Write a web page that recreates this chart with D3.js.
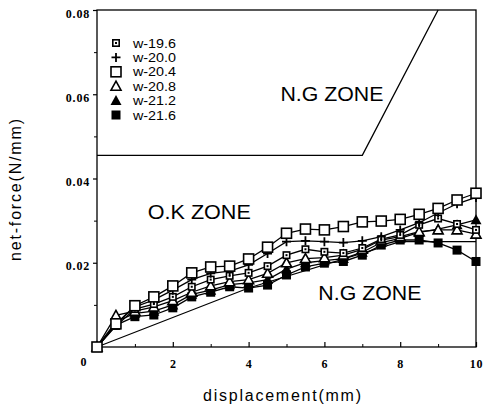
<!DOCTYPE html>
<html><head><meta charset="utf-8">
<script src="https://cdn.jsdelivr.net/npm/d3@7"></script>
<style>body{margin:0;background:#fff}svg{display:block}</style>
</head><body>
<svg id="c" width="486" height="410"></svg>
<script>
const xs = [0,0.5,1,1.5,2,2.5,3,3.5,4,4.5,5,5.5,6,6.5,7,7.5,8,8.5,9,9.5,10];
const w196 = [0,0.0050,0.0090,0.0102,0.0119,0.0143,0.0160,0.0169,0.0176,0.0192,0.0218,0.0232,0.0226,0.0223,0.0235,0.0256,0.0266,0.0290,0.0305,0.0292,0.0278];
const w200 = [0,0.0055,0.0095,0.0112,0.0135,0.0160,0.0175,0.0180,0.0195,0.0222,0.0250,0.0252,0.0250,0.0248,0.0252,0.0262,0.0278,0.0295,0.0318,0.0340,0.0355];
const w204 = [0,0.0055,0.0098,0.0119,0.0145,0.0176,0.0190,0.0192,0.0209,0.0237,0.0270,0.0280,0.0278,0.0286,0.0297,0.0299,0.0303,0.0315,0.0329,0.0349,0.0365];
const w208 = [0,0.0075,0.0085,0.0095,0.0110,0.0130,0.0145,0.0155,0.0160,0.0175,0.0200,0.0210,0.0212,0.0218,0.0232,0.0254,0.0262,0.0274,0.0278,0.0278,0.0268];
const w212 = [0,0.0060,0.0080,0.0085,0.0100,0.0125,0.0135,0.0148,0.0152,0.0160,0.0185,0.0200,0.0205,0.0210,0.0225,0.0248,0.0258,0.0272,0.0280,0.0290,0.0302];
const w216 = [0,0.0052,0.0072,0.0076,0.0093,0.0119,0.0130,0.0143,0.0140,0.0147,0.0171,0.0190,0.0199,0.0203,0.0218,0.0242,0.0254,0.0254,0.0247,0.0230,0.0203];
const seriesNames = ["w-19.6","w-20.0","w-20.4","w-20.8","w-21.2","w-21.6"];
const seriesVals = [w196,w200,w204,w208,w212,w216];
const seriesMarks = ["dotsq","plus","opensq","opentri","filltri","fillsq"];
const yTicks = [0.02,0.04,0.06,0.08];
const yMinor = [0.01,0.03,0.05,0.07];
const xTicks = [2,4,6,8,10];
const xMinor = [1,3,5,7,9];
const ngUpX = [0,7,9], ngUpY = [0.0455,0.0455,0.08];
const ngLowX = [0,4,8,10], ngLowY = [0,0.014,0.025,0.025];
const zoneText = ["N.G ZONE","O.K ZONE","N.G ZONE"];
const zoneX = [6.2,2.7,7.2], zoneY = [0.0585,0.0305,0.0112];

const svg = d3.select("#c");
const x = d3.scaleLinear([0,10],[97,476]);
const y = d3.scaleLinear([0,0.08],[347,10]);

// frame
svg.append("rect").attr("x",x(0)).attr("y",y(0.08)).attr("width",x(10)-x(0)).attr("height",y(0)-y(0.08))
  .attr("fill","none").attr("stroke","#000").attr("stroke-width",1.3);

// axes
const tickFont = "bold 12px 'Liberation Serif', serif";
const ya = svg.append("g").attr("transform",`translate(${x(0)},0)`)
  .call(d3.axisLeft(y).tickValues(yTicks).tickSize(4).tickPadding(3).tickFormat(d3.format(".2f")));
ya.select(".domain").remove();
ya.selectAll("text").style("font",tickFont).style("letter-spacing","0.8px").attr("dy","0.6em").attr("fill","#000");
ya.selectAll("line").attr("stroke-width",1.2);
const ym = svg.append("g").attr("transform",`translate(${x(0)},0)`)
  .call(d3.axisLeft(y).tickValues(yMinor).tickSize(3).tickFormat(""));
ym.select(".domain").remove();
const xa = svg.append("g").attr("transform",`translate(0,${y(0)})`)
  .call(d3.axisBottom(x).tickValues(xTicks).tickSize(-5).tickPadding(12).tickFormat(d3.format("d")));
xa.select(".domain").remove();
xa.selectAll("text").style("font",tickFont).style("letter-spacing","0.8px").attr("fill","#000");
xa.selectAll("line").attr("stroke-width",1.2);
const xm = svg.append("g").attr("transform",`translate(0,${y(0)})`)
  .call(d3.axisBottom(x).tickValues(xMinor).tickSize(-3).tickFormat(""));
xm.select(".domain").remove();
svg.append("text").attr("x",x(0)-13.5).attr("y",y(0)+19).attr("text-anchor","middle")
  .style("font",tickFont).text("0");

// axis titles
svg.append("text").attr("x",282).attr("y",401).attr("text-anchor","middle")
  .attr("textLength",158).attr("lengthAdjust","spacing")
  .style("font","16px 'Liberation Sans', Arial, sans-serif").text("displacement(mm)");
svg.append("text").attr("transform","translate(21,190) rotate(-90)").attr("text-anchor","middle")
  .attr("textLength",142).attr("lengthAdjust","spacing")
  .style("font","16px 'Liberation Sans', Arial, sans-serif").text("net-force(N/mm)");

// zone boundaries
const bl = d3.line().x(d=>x(d[0])).y(d=>y(d[1]));
svg.append("path").attr("d",bl(ngUpX.map((v,i)=>[v,ngUpY[i]]))).attr("fill","none").attr("stroke","#000").attr("stroke-width",1.3);
svg.append("path").attr("d",bl(ngLowX.map((v,i)=>[v,ngLowY[i]]))).attr("fill","none").attr("stroke","#000").attr("stroke-width",1.2);

// zone labels
zoneText.forEach((t,i)=>{
  svg.append("text").attr("x",x(zoneX[i])).attr("y",y(zoneY[i])).attr("text-anchor","middle")
    .attr("textLength",103).attr("lengthAdjust","spacingAndGlyphs")
    .style("font","20px 'Liberation Sans', Arial, sans-serif").text(t);
});

// series lines
const line = d3.line().x((d,i)=>x(xs[i])).y(d=>y(d));
seriesVals.forEach(v=>{
  svg.append("path").attr("d",line(v)).attr("fill","none").attr("stroke","#000").attr("stroke-width",1.3);
});

function marker(g,type,cx,cy){
  if(type==="opensq"){
    g.append("rect").attr("x",cx-5).attr("y",cy-5).attr("width",10).attr("height",10).attr("fill","#fff").attr("stroke","#000").attr("stroke-width",1.6);
  } else if(type==="dotsq"){
    g.append("rect").attr("x",cx-3.2).attr("y",cy-3.2).attr("width",6.4).attr("height",6.4).attr("fill","#fff").attr("stroke","#000").attr("stroke-width",1.6);
    g.append("rect").attr("x",cx-1).attr("y",cy-1).attr("width",2).attr("height",2).attr("fill","#000");
  } else if(type==="fillsq"){
    g.append("rect").attr("x",cx-4.5).attr("y",cy-4.5).attr("width",9).attr("height",9).attr("fill","#000");
  } else if(type==="opentri"){
    g.append("path").attr("d",`M${cx},${cy-5}L${cx+5},${cy+4}L${cx-5},${cy+4}Z`).attr("fill","#fff").attr("stroke","#000").attr("stroke-width",1.6);
  } else if(type==="filltri"){
    g.append("path").attr("d",`M${cx},${cy-5.5}L${cx+5.5},${cy+4.5}L${cx-5.5},${cy+4.5}Z`).attr("fill","#000");
  } else if(type==="plus"){
    g.append("path").attr("d",`M${cx-4.5},${cy}H${cx+4.5}M${cx},${cy-4.5}V${cy+4.5}`).attr("stroke","#000").attr("stroke-width",1.8);
  }
}
const order = [5,4,3,0,1,2];
order.forEach(si=>{
  const g = svg.append("g");
  seriesVals[si].forEach((v,i)=>marker(g,seriesMarks[si],x(xs[i]),y(v)));
});

// legend
const lg = svg.append("g");
seriesNames.forEach((n,i)=>{
  const ly = 43 + i*14.4;
  marker(lg,seriesMarks[i],116,ly);
  lg.append("text").attr("x",133).attr("y",ly+4.5)
    .attr("textLength",43).attr("lengthAdjust","spacingAndGlyphs")
    .style("font","12px 'Liberation Sans', Arial, sans-serif").text(n);
});
</script>
</body></html>
